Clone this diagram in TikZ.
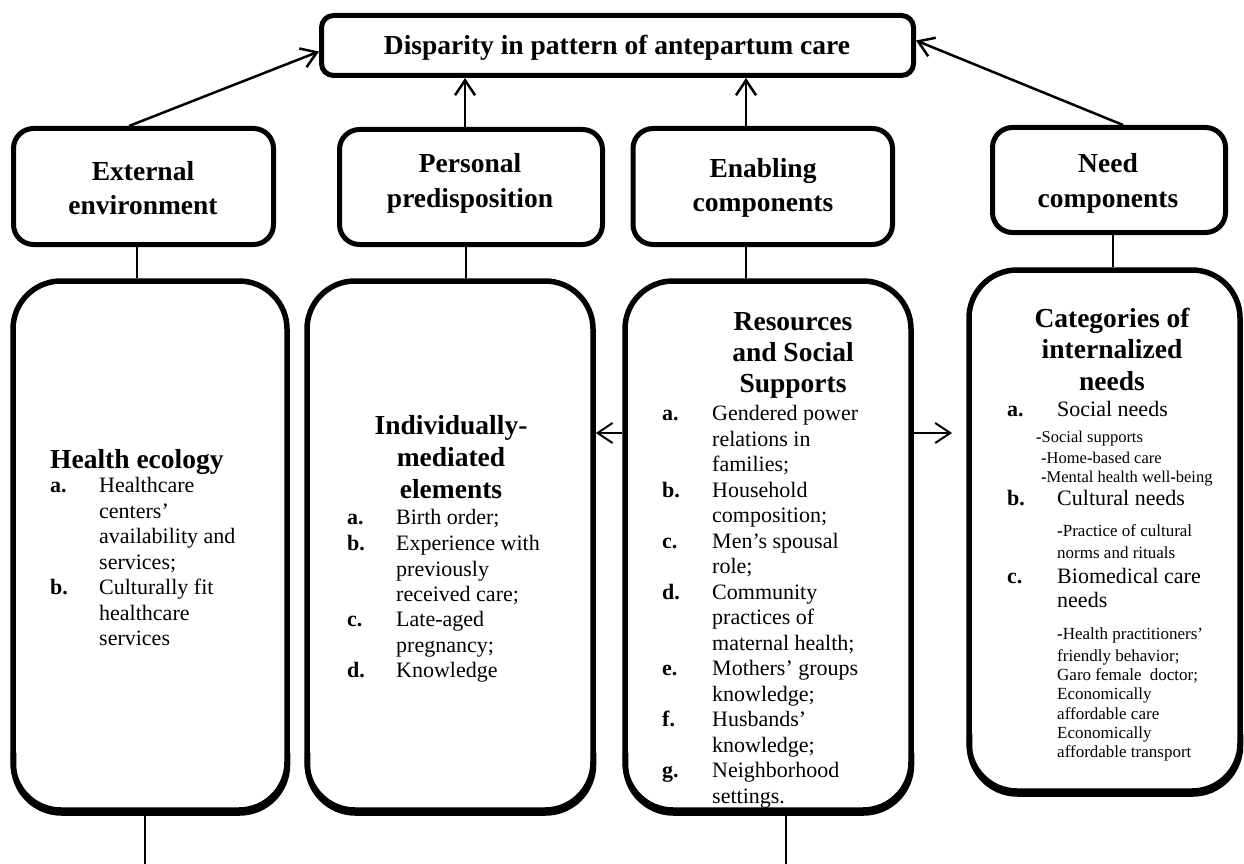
\documentclass[tikz,border=0pt]{standalone}
\usepackage{fontspec}
\setmainfont{Liberation Serif}
\usetikzlibrary{arrows.meta,calc}

\begin{document}
\begin{tikzpicture}[x=1pt,y=-1pt,
  topbox/.style={draw, line width=5pt, rounded corners=12pt, inner sep=0pt},
  smallbox/.style={draw, line width=5pt, rounded corners=20pt, inner sep=0pt},
  bigarea/.style={draw=none, inner sep=0pt, outer sep=2.75pt},
  bigline/.style={line width=5.5pt, rounded corners=48pt},
  conn/.style={line width=1.4pt},
  arr/.style={line width=2.5pt, -{Straight Barb[length=15pt,width=20pt,line width=2.5pt]}},
  harr/.style={line width=2pt, -{Straight Barb[length=15pt,width=20pt,line width=2pt]}},
  hd/.style={font=\fontsize{27.5}{32}\selectfont\bfseries, inner sep=0pt, text height=18.6pt, text depth=6pt, anchor=center},
  it/.style={font=\fontsize{22}{26}\selectfont, inner sep=0pt, text height=15.4pt, text depth=5.5pt, anchor=west},
  lb/.style={it, font=\fontsize{22}{26}\selectfont\bfseries},
  sm/.style={font=\fontsize{16.5}{20}\selectfont, inner sep=0pt, text height=11.5pt, text depth=4pt, anchor=west},
  smb/.style={sm, font=\fontsize{17}{20}\selectfont},
]
\useasboundingbox (0,0) rectangle (1244,864);

% ---- outcome box ----
\node[topbox, minimum width=592pt, minimum height=60pt] (top) at (617.5,45.5) {};
\node[hd] (topT) at (617,48) {Disparity in pattern of antepartum care};

% ---- component boxes ----
\node[smallbox, minimum width=260pt, minimum height=116pt] (ext) at (143.5,186.5) {};
\node[smallbox, minimum width=263pt, minimum height=115pt] (pp) at (471,187) {};
\node[smallbox, minimum width=259.5pt, minimum height=116pt] (en) at (762.75,186.5) {};
\node[smallbox, minimum width=233pt, minimum height=105pt] (nc) at (1109,180) {};

\node[hd] (extA) at (143,174) {External};
\node[hd] (extB) at (143,208) {environment};
\node[hd] (ppA) at (470,166) {Personal};
\node[hd] (ppB) at (470,201) {predisposition};
\node[hd] (enA) at (763,171) {Enabling};
\node[hd] (enB) at (763,205) {components};
\node[hd] (ncA) at (1108,166) {Need};
\node[hd] (ncB) at (1108,201) {components};

% ---- detail boxes: outline plus a heavier lower edge ----
\node[bigarea, minimum width=274pt, minimum height=529pt] (he) at (150,545.5) {};
\node[bigarea, minimum width=286pt, minimum height=529pt] (im) at (450,545.5) {};
\node[bigarea, minimum width=286pt, minimum height=529pt] (rs) at (768,545.5) {};
\node[bigarea, minimum width=271pt, minimum height=521pt] (cn) at (1104.5,530.5) {};
\foreach \b in {he,im,rs,cn} {
  \draw[bigline] ([shift={(2.75,2.75)}]\b.north west) rectangle ([shift={(-2.75,-2.75)}]\b.south east);
  \draw[bigline] ([shift={(3.25,-60)}]\b.south west) -- ([shift={(3.25,0.25)}]\b.south west)
    -- ([shift={(-2.25,0.25)}]\b.south east) -- ([shift={(-2.25,-60)}]\b.south east);
}

% ---- arrows to the outcome ----
\coordinate (xa) at (129,0);
\coordinate (xb) at (465,0);
\coordinate (xc) at (746,0);
\coordinate (xd) at (1123,0);
\draw[arr] (xa |- ext.north) -- ($(top.west)+(0,6)$);
\draw[arr] (xb |- pp.north) -- (xb |- top.south);
\draw[arr] (xc |- en.north) -- (xc |- top.south);
\draw[arr] (xd |- nc.north) -- ($(top.east)+(0,-5)$);

% ---- links between component and detail boxes ----
\coordinate (la) at (137,0);
\coordinate (lb) at (466,0);
\coordinate (lc) at (746,0);
\coordinate (ld) at (1113,0);
\draw[conn] (la |- ext.south) -- (la |- he.north);
\draw[conn] (lb |- pp.south) -- (lb |- im.north);
\draw[conn] (lc |- en.south) -- (lc |- rs.north);
\draw[conn] (ld |- nc.south) -- (ld |- cn.north);

% ---- side arrows from resources ----
\coordinate (ya) at (0,433);
\coordinate (fe) at (952,433);
\draw[harr] (ya -| rs.west) -- (ya -| im.east);
\draw[harr] (ya -| rs.east) -- (fe);

% ---- lines leaving the bottom ----
\coordinate (ba) at (145,864);
\coordinate (bb) at (786,864);
\draw[conn] ([yshift=-3pt]ba |- he.south) -- (ba);
\draw[conn] ([yshift=-3pt]bb |- rs.south) -- (bb);

% ---- Health ecology ----
\node[hd, anchor=west] (heH) at (50,462) {Health ecology};
\foreach \yy/\lab [count=\i] in {488/a., 590/b.}
  \node[lb] (heL\i) at (50,\yy) {\lab};
\foreach \yy/\txt [count=\i] in {488/Healthcare, 513.5/centers’, 539/availability and,
    564.5/services;, 590/Culturally fit, 615.5/healthcare, 641/services}
  \node[it] (heT\i) at (99,\yy) {\txt};

% ---- Individually-mediated elements ----
\node[hd] (imH1) at (451,428) {Individually-};
\node[hd] (imH2) at (451,460) {mediated};
\node[hd] (imH3) at (451,492) {elements};
\foreach \yy/\lab [count=\i] in {520/a., 546/b., 622/c., 673/d.}
  \node[lb] (imL\i) at (347,\yy) {\lab};
\foreach \yy/\txt [count=\i] in {520/Birth order;, 546/Experience with, 571.5/previously,
    597/received care;, 622/Late-aged, 647.5/pregnancy;, 673/Knowledge}
  \node[it] (imT\i) at (396,\yy) {\txt};

% ---- Resources and Social Supports ----
\node[hd] (rsH1) at (793,324) {Resources};
\node[hd] (rsH2) at (793,355) {and Social};
\node[hd] (rsH3) at (793,386) {Supports};
\foreach \yy/\lab [count=\i] in {416/a., 492.5/b., 543.5/c., 594.5/d., 671/e., 722/f., 773/g.}
  \node[lb] (rsL\i) at (662,\yy) {\lab};
\foreach \yy/\txt [count=\i] in {416/Gendered power, 441.5/relations in, 467/families;,
    492.5/Household, 518/composition;, 543.5/Men’s spousal, 569/role;,
    594.5/Community, 620/practices of, 645.5/maternal health;,
    671/Mothers’ groups, 696.5/knowledge;, 722/Husbands’, 747.5/knowledge;,
    773/Neighborhood, 798.5/settings.}
  \node[it] (rsT\i) at (712,\yy) {\txt};

% ---- Categories of internalized needs ----
\node[hd] (cnH1) at (1112,321) {Categories of};
\node[hd] (cnH2) at (1112,352) {internalized};
\node[hd] (cnH3) at (1112,384) {needs};
\foreach \yy/\lab [count=\i] in {412/a., 501/b., 579/c.}
  \node[lb] (cnL\i) at (1007,\yy) {\lab};
\foreach \yy/\txt [count=\i] in {412/Social needs, 501/Cultural needs, 579/Biomedical care, 603/needs}
  \node[it] (cnT\i) at (1057,\yy) {\txt};
\foreach \xx/\yy/\txt [count=\i] in {1036/439/{\textbf{-}Social supports},
    1041/460/{\textbf{-}Home\textbf{-}based care},
    1041/479/{\textbf{-}Mental health well\textbf{-}being}}
  \node[sm] (cnS\i) at (\xx,\yy) {\txt};
\foreach \yy/\txt [count=\i] in {533/{\textbf{-}Practice of cultural}, 555/norms and rituals,
    636/{\textbf{-}Health practitioners’}, 658/friendly behavior;,
    677/{Garo female\hspace{4pt} doctor;}, 696/Economically, 716/affordable care,
    735/Economically, 754/affordable transport}
  \node[smb] (cnB\i) at (1057,\yy) {\txt};
\end{tikzpicture}
\end{document}
